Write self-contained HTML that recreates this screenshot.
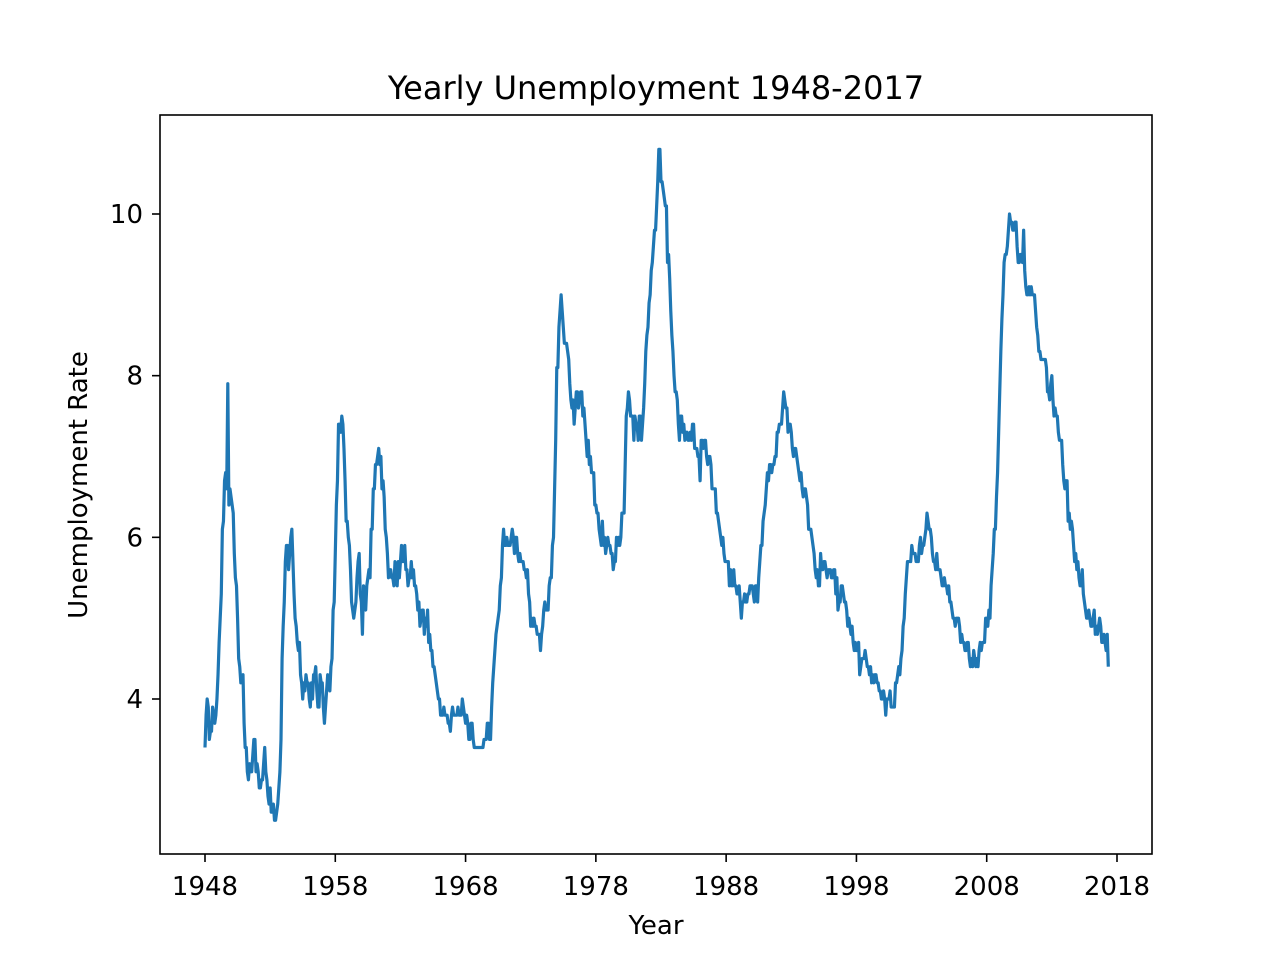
<!DOCTYPE html>
<html><head><meta charset="utf-8"><style>
html,body{margin:0;padding:0;background:#fff;}
svg{display:block;font-family:"DejaVu Sans","Liberation Sans",sans-serif;}
</style></head><body>
<svg id="chart" width="1280" height="960" viewBox="0 0 1280 960">
<rect width="1280" height="960" fill="#fff"/>
<text x="656" y="99" font-size="32" text-anchor="middle" fill="#000">Yearly Unemployment 1948-2017</text>
<text x="656" y="934" font-size="26" text-anchor="middle" fill="#000">Year</text>
<text x="87" y="485" font-size="26" text-anchor="middle" fill="#000" transform="rotate(-90 87 485)">Unemployment Rate</text>
<g id="xticks"></g>
<g id="yticks"></g>
<path id="line" fill="none" stroke="#1f77b4" stroke-width="3.2" stroke-linejoin="round"/>
<rect x="160" y="115" width="992" height="739" fill="none" stroke="#000" stroke-width="1.6"/>
</svg>
<script>
const startYear = 1948;
const xTickLabels = [1948,1958,1968,1978,1988,1998,2008,2018];
const yTickLabels = [4,6,8,10];
const rates = [
3.4,3.8,4.0,3.9,3.5,3.6,3.6,3.9,3.8,3.7,3.8,4.0,
4.3,4.7,5.0,5.3,6.1,6.2,6.7,6.8,6.6,7.9,6.4,6.6,
6.5,6.4,6.3,5.8,5.5,5.4,5.0,4.5,4.4,4.2,4.2,4.3,
3.7,3.4,3.4,3.1,3.0,3.2,3.1,3.1,3.3,3.5,3.5,3.1,
3.2,3.1,2.9,2.9,3.0,3.0,3.2,3.4,3.1,3.0,2.8,2.7,
2.9,2.6,2.6,2.7,2.5,2.5,2.6,2.7,2.9,3.1,3.5,4.5,
4.9,5.2,5.7,5.9,5.9,5.6,5.8,6.0,6.1,5.7,5.3,5.0,
4.9,4.7,4.6,4.7,4.3,4.2,4.0,4.2,4.1,4.3,4.2,4.2,
4.0,3.9,4.2,4.0,4.3,4.3,4.4,4.1,3.9,3.9,4.3,4.2,
4.2,3.9,3.7,3.9,4.1,4.3,4.2,4.1,4.4,4.5,5.1,5.2,
5.8,6.4,6.7,7.4,7.4,7.3,7.5,7.4,7.1,6.7,6.2,6.2,
6.0,5.9,5.6,5.2,5.1,5.0,5.1,5.2,5.5,5.7,5.8,5.3,
5.2,4.8,5.4,5.2,5.1,5.4,5.5,5.6,5.5,6.1,6.1,6.6,
6.6,6.9,6.9,7.0,7.1,6.9,7.0,6.6,6.7,6.5,6.1,6.0,
5.8,5.5,5.6,5.6,5.5,5.5,5.4,5.7,5.6,5.4,5.7,5.5,
5.7,5.9,5.7,5.7,5.9,5.6,5.6,5.4,5.5,5.5,5.7,5.5,
5.6,5.4,5.4,5.3,5.1,5.2,4.9,5.0,5.1,5.1,4.8,5.0,
4.9,5.1,4.7,4.8,4.6,4.6,4.4,4.4,4.3,4.2,4.1,4.0,
4.0,3.8,3.8,3.8,3.9,3.8,3.8,3.8,3.7,3.7,3.6,3.8,
3.9,3.8,3.8,3.8,3.8,3.9,3.8,3.8,3.8,4.0,3.9,3.8,
3.7,3.8,3.7,3.5,3.5,3.7,3.7,3.5,3.4,3.4,3.4,3.4,
3.4,3.4,3.4,3.4,3.4,3.5,3.5,3.5,3.7,3.7,3.5,3.5,
3.9,4.2,4.4,4.6,4.8,4.9,5.0,5.1,5.4,5.5,5.9,6.1,
5.9,5.9,6.0,5.9,5.9,5.9,6.0,6.1,6.0,5.8,6.0,6.0,
5.8,5.7,5.8,5.7,5.7,5.7,5.6,5.6,5.5,5.6,5.3,5.2,
4.9,5.0,4.9,5.0,4.9,4.9,4.8,4.8,4.8,4.6,4.8,4.9,
5.1,5.2,5.1,5.1,5.1,5.4,5.5,5.5,5.9,6.0,6.6,7.2,
8.1,8.1,8.6,8.8,9.0,8.8,8.6,8.4,8.4,8.4,8.3,8.2,
7.9,7.7,7.6,7.7,7.4,7.6,7.8,7.8,7.6,7.7,7.8,7.8,
7.5,7.6,7.4,7.2,7.0,7.2,6.9,7.0,6.8,6.8,6.8,6.4,
6.4,6.3,6.3,6.1,6.0,5.9,6.2,5.9,6.0,5.8,5.9,6.0,
5.9,5.9,5.8,5.8,5.6,5.7,5.7,6.0,5.9,6.0,5.9,6.0,
6.3,6.3,6.3,6.9,7.5,7.6,7.8,7.7,7.5,7.5,7.5,7.2,
7.5,7.4,7.4,7.2,7.5,7.5,7.2,7.4,7.6,7.9,8.3,8.5,
8.6,8.9,9.0,9.3,9.4,9.6,9.8,9.8,10.1,10.4,10.8,10.8,
10.4,10.4,10.3,10.2,10.1,10.1,9.4,9.5,9.2,8.8,8.5,8.3,
8.0,7.8,7.8,7.7,7.4,7.2,7.5,7.5,7.3,7.4,7.2,7.3,
7.3,7.2,7.2,7.3,7.2,7.4,7.4,7.1,7.1,7.1,7.0,7.0,
6.7,7.2,7.2,7.1,7.2,7.2,7.0,6.9,7.0,7.0,6.9,6.6,
6.6,6.6,6.6,6.3,6.3,6.2,6.1,6.0,5.9,6.0,5.8,5.7,
5.7,5.7,5.7,5.4,5.6,5.4,5.4,5.6,5.4,5.4,5.3,5.3,
5.4,5.2,5.0,5.2,5.2,5.3,5.2,5.2,5.3,5.3,5.4,5.4,
5.4,5.3,5.2,5.4,5.4,5.2,5.5,5.7,5.9,5.9,6.2,6.3,
6.4,6.6,6.8,6.7,6.9,6.9,6.8,6.9,6.9,7.0,7.0,7.3,
7.3,7.4,7.4,7.4,7.6,7.8,7.7,7.6,7.6,7.3,7.4,7.4,
7.3,7.1,7.0,7.1,7.1,7.0,6.9,6.8,6.7,6.8,6.6,6.5,
6.6,6.6,6.5,6.4,6.1,6.1,6.1,6.0,5.9,5.8,5.6,5.5,
5.6,5.4,5.4,5.8,5.6,5.6,5.7,5.7,5.6,5.5,5.6,5.6,
5.6,5.5,5.5,5.6,5.6,5.3,5.5,5.1,5.2,5.2,5.4,5.4,
5.3,5.2,5.2,5.1,4.9,5.0,4.9,4.8,4.9,4.7,4.6,4.7,
4.6,4.6,4.7,4.3,4.4,4.5,4.5,4.5,4.6,4.5,4.4,4.4,
4.3,4.4,4.2,4.3,4.2,4.3,4.3,4.2,4.2,4.1,4.1,4.0,
4.0,4.1,4.0,3.8,4.0,4.0,4.0,4.1,3.9,3.9,3.9,3.9,
4.2,4.2,4.3,4.4,4.3,4.5,4.6,4.9,5.0,5.3,5.5,5.7,
5.7,5.7,5.7,5.9,5.8,5.8,5.8,5.7,5.7,5.7,5.9,6.0,
5.8,5.9,5.9,6.0,6.1,6.3,6.2,6.1,6.1,6.0,5.8,5.7,
5.7,5.6,5.8,5.6,5.6,5.6,5.5,5.4,5.4,5.5,5.4,5.4,
5.3,5.4,5.2,5.2,5.1,5.0,5.0,4.9,5.0,5.0,5.0,4.9,
4.7,4.8,4.7,4.7,4.6,4.6,4.7,4.7,4.5,4.4,4.5,4.4,
4.6,4.5,4.4,4.5,4.4,4.6,4.7,4.6,4.7,4.7,4.7,5.0,
5.0,4.9,5.1,5.0,5.4,5.6,5.8,6.1,6.1,6.5,6.8,7.3,
7.8,8.3,8.7,9.0,9.4,9.5,9.5,9.6,9.8,10.0,9.9,9.9,
9.8,9.8,9.9,9.9,9.6,9.4,9.4,9.5,9.5,9.4,9.8,9.3,
9.1,9.0,9.0,9.1,9.0,9.1,9.0,9.0,9.0,8.8,8.6,8.5,
8.3,8.3,8.2,8.2,8.2,8.2,8.2,8.1,7.8,7.8,7.7,7.9,
8.0,7.7,7.5,7.6,7.5,7.5,7.3,7.2,7.2,7.2,6.9,6.7,
6.6,6.7,6.7,6.2,6.3,6.1,6.2,6.1,5.9,5.7,5.8,5.6,
5.7,5.5,5.4,5.4,5.6,5.3,5.2,5.1,5.0,5.0,5.1,5.0,
4.9,4.9,5.0,5.1,4.8,4.9,4.8,4.9,5.0,4.9,4.7,4.7,
4.8,4.7,4.6,4.8,4.4
];
const NS = "http://www.w3.org/2000/svg";
function xScale(year){ return 205 + (year - 1948) * (912 / 70); }
function yScale(v){ return 699 - (v - 4) * (485 / 6); }
let d = "";
rates.forEach(function(v,i){
  const x = xScale(startYear + i/12), y = yScale(v);
  d += (i ? "L" : "M") + x.toFixed(2) + "," + y.toFixed(2);
});
document.getElementById("line").setAttribute("d", d);
const xg = document.getElementById("xticks");
xTickLabels.forEach(function(t){
  const x = xScale(t);
  const l = document.createElementNS(NS,"line");
  l.setAttribute("x1",x); l.setAttribute("x2",x); l.setAttribute("y1",854); l.setAttribute("y2",862);
  l.setAttribute("stroke","#000"); l.setAttribute("stroke-width","1.6");
  
  
  xg.appendChild(l);
  const tx = document.createElementNS(NS,"text");
  tx.setAttribute("x",x); tx.setAttribute("y",895); tx.setAttribute("font-size","26"); tx.setAttribute("text-anchor","middle");
  tx.textContent = t;
  
  
  xg.appendChild(tx);
});
const yg = document.getElementById("yticks");
yTickLabels.forEach(function(t){
  const y = yScale(t);
  const l = document.createElementNS(NS,"line");
  l.setAttribute("x1",152); l.setAttribute("x2",160); l.setAttribute("y1",y); l.setAttribute("y2",y);
  l.setAttribute("stroke","#000"); l.setAttribute("stroke-width","1.6");
  
  
  yg.appendChild(l);
  const tx = document.createElementNS(NS,"text");
  tx.setAttribute("x",143); tx.setAttribute("y",y+9); tx.setAttribute("font-size","26"); tx.setAttribute("text-anchor","end");
  tx.textContent = t;
  
  
  yg.appendChild(tx);
});
</script>
</body></html>
